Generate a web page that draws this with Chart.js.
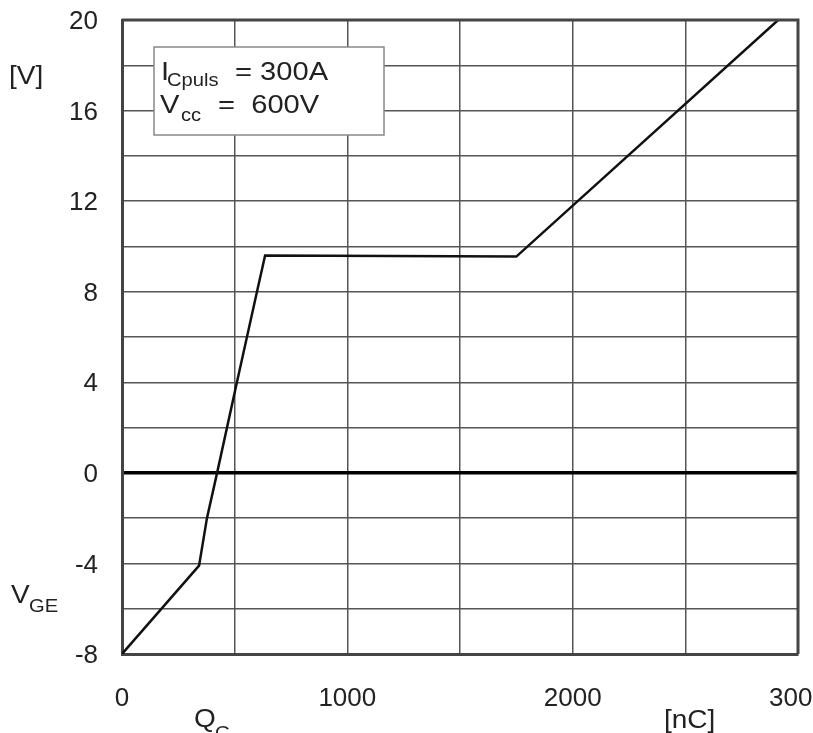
<!DOCTYPE html>
<html>
<head>
  <meta charset="UTF-8" />
  <title>Gate charge</title>
  <style>
    html, body { margin: 0; padding: 0; background: #fff; }
    #wrap { width: 813px; height: 733px; position: relative; }
  </style>
  <script src="https://cdn.jsdelivr.net/npm/chart.js@4.4.1/dist/chart.umd.min.js"></script>
</head>
<body>
  <div id="wrap"><canvas id="c" width="813" height="733"></canvas></div>
  <script>
    // gate charge curve
    const qG = [0, 342, 377, 422, 510, 599, 635, 1750, 2912];
    const vGE = [-8, -4.1, -2, 0, 4, 8, 9.6, 9.55, 20];
    const xTickLabels = [0, 1000, 2000, 3000];
    const yTickLabels = [-8, -4, 0, 4, 8, 12, 16, 20];

    const FONT = '"Liberation Sans", Arial, sans-serif';
    const points = qG.map((q, i) => ({ x: q, y: vGE[i] }));

    // text a bit wider than the font, like the scanned original
    function wideText(ctx, str, x, y, size) {
      ctx.save();
      ctx.font = size + 'px ' + FONT;
      ctx.translate(x, y);
      ctx.scale(1.12, 1);
      ctx.fillText(str, 0, 0);
      ctx.restore();
    }

    // axis titles, units and the condition box
    const overlay = {
      id: 'overlay',
      afterDraw(chart) {
        const ctx = chart.ctx;
        const a = chart.chartArea;
        ctx.save();

        // top and right frame
        ctx.strokeStyle = '#444';
        ctx.lineWidth = 3;
        ctx.beginPath();
        ctx.moveTo(a.left, a.top);
        ctx.lineTo(a.right, a.top);
        ctx.lineTo(a.right, a.bottom);
        ctx.stroke();

        ctx.fillStyle = '#222';
        ctx.textBaseline = 'alphabetic';
        ctx.textAlign = 'left';

        wideText(ctx, '[V]', 9, 84, 25);
        wideText(ctx, 'V', 11, 603, 25);
        wideText(ctx, 'GE', 29, 612, 18);
        wideText(ctx, 'Q', 194, 727, 25);
        wideText(ctx, 'G', 215, 739, 18);
        wideText(ctx, '[nC]', 664, 728, 25);

        // condition box
        const bx = 154, by = 47, bw = 230, bh = 88;
        ctx.fillStyle = '#fff';
        ctx.fillRect(bx, by, bw, bh);
        ctx.strokeStyle = '#888';
        ctx.lineWidth = 1.5;
        ctx.strokeRect(bx, by, bw, bh);

        ctx.fillStyle = '#222';
        wideText(ctx, 'I', 161, 80, 26);
        wideText(ctx, 'Cpuls', 167, 86, 18);
        wideText(ctx, '= 300A', 235, 80, 26);
        wideText(ctx, 'V', 160, 113, 26);
        wideText(ctx, 'cc', 181, 121, 18);
        wideText(ctx, '=  600V', 218, 113, 26);
        ctx.restore();
      }
    };

    new Chart(document.getElementById('c'), {
      type: 'scatter',
      data: {
        datasets: [{
          data: points,
          showLine: true,
          borderColor: '#111',
          borderWidth: 2.5,
          pointRadius: 0,
          tension: 0
        }]
      },
      options: {
        responsive: false,
        animation: false,
        layout: { padding: { left: 0, top: 20, right: 15, bottom: 0 } },
        plugins: { legend: { display: false }, tooltip: { enabled: false } },
        scales: {
          x: {
            type: 'linear',
            min: 0,
            max: 3000,
            afterFit(s) { s.height = 79; s.paddingLeft = 0; s.paddingRight = 0; },
            afterBuildTicks(s) {
              s.ticks = [];
              for (let v = 0; v <= 3000; v += 500) s.ticks.push({ value: v });
            },
            border: { display: true, color: '#444', width: 3 },
            grid: { color: '#555', lineWidth: 1.5, drawTicks: false },
            ticks: {
              padding: 29,
              maxRotation: 0,
              autoSkip: false,
              color: '#222',
              font: { family: FONT, size: 26 },
              callback: v => xTickLabels.includes(v) ? String(v) : ''
            }
          },
          y: {
            type: 'linear',
            min: -8,
            max: 20,
            afterFit(s) { s.width = 122; s.paddingTop = 0; s.paddingBottom = 0; },
            afterBuildTicks(s) {
              s.ticks = [];
              for (let v = -8; v <= 20; v += 2) s.ticks.push({ value: v });
            },
            border: { display: true, color: '#444', width: 3 },
            grid: {
              drawTicks: false,
              color: c => c.tick && c.tick.value === 0 ? '#000' : '#555',
              lineWidth: c => c.tick && c.tick.value === 0 ? 3.5 : 1.5
            },
            ticks: {
              padding: 24,
              labelOffset: 2,
              autoSkip: false,
              color: '#222',
              font: { family: FONT, size: 26 },
              callback: v => yTickLabels.includes(v) ? String(v) : ''
            }
          }
        }
      },
      plugins: [overlay]
    });
  </script>
</body>
</html>
